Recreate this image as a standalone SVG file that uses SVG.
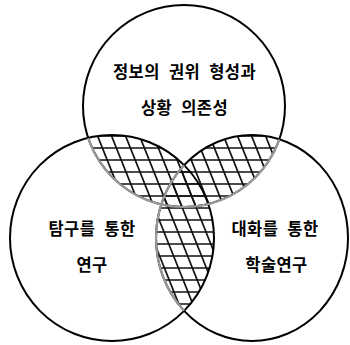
<svg xmlns="http://www.w3.org/2000/svg" width="350" height="345" viewBox="0 0 350 345">
<style>
.c{fill:none;stroke:#000;stroke-width:2}
.g{fill:none;stroke:#9a9a9a;stroke-width:2.2}
.h line{stroke:#111;stroke-width:1.7}
.t{font-family:"Noto Sans CJK KR","Noto Sans",sans-serif;font-size:16.5px;font-weight:bold;fill:#000;text-anchor:middle;letter-spacing:0.4px;word-spacing:5px}
</style>
<defs>
<clipPath id="cTop"><circle cx="184" cy="106" r="101"/></clipPath>
<clipPath id="cLeft"><ellipse cx="112" cy="238" rx="102" ry="103"/></clipPath>
<clipPath id="cRight"><ellipse cx="252" cy="238" rx="96" ry="103"/></clipPath>
<clipPath id="cLR"><ellipse cx="112" cy="238" rx="102" ry="103"/><ellipse cx="252" cy="238" rx="96" ry="103"/></clipPath>
<g id="lines" class="h">
<line x1="70" y1="136" x2="300" y2="136"/>
<line x1="70" y1="148" x2="300" y2="148"/>
<line x1="70" y1="160" x2="300" y2="160"/>
<line x1="70" y1="172" x2="300" y2="172"/>
<line x1="70" y1="184" x2="300" y2="184"/>
<line x1="70" y1="196" x2="300" y2="196"/>
<line x1="70" y1="208" x2="300" y2="208"/>
<line x1="70" y1="220" x2="300" y2="220"/>
<line x1="70" y1="232" x2="300" y2="232"/>
<line x1="70" y1="244" x2="300" y2="244"/>
<line x1="70" y1="256" x2="300" y2="256"/>
<line x1="70" y1="268" x2="300" y2="268"/>
<line x1="70" y1="280" x2="300" y2="280"/>
<line x1="70" y1="292" x2="300" y2="292"/>
<line x1="70" y1="304" x2="300" y2="304"/>
<line x1="35.2" y1="120" x2="115.2" y2="320"/>
<line x1="49.2" y1="120" x2="129.2" y2="320"/>
<line x1="63.2" y1="120" x2="143.2" y2="320"/>
<line x1="77.2" y1="120" x2="157.2" y2="320"/>
<line x1="91.2" y1="120" x2="171.2" y2="320"/>
<line x1="105.2" y1="120" x2="185.2" y2="320"/>
<line x1="119.2" y1="120" x2="199.2" y2="320"/>
<line x1="133.2" y1="120" x2="213.2" y2="320"/>
<line x1="147.2" y1="120" x2="227.2" y2="320"/>
<line x1="161.2" y1="120" x2="241.2" y2="320"/>
<line x1="175.2" y1="120" x2="255.2" y2="320"/>
<line x1="189.2" y1="120" x2="269.2" y2="320"/>
<line x1="203.2" y1="120" x2="283.2" y2="320"/>
<line x1="217.2" y1="120" x2="297.2" y2="320"/>
<line x1="231.2" y1="120" x2="311.2" y2="320"/>
<line x1="245.2" y1="120" x2="325.2" y2="320"/>
<line x1="259.2" y1="120" x2="339.2" y2="320"/>
<line x1="273.2" y1="120" x2="353.2" y2="320"/>
<line x1="287.2" y1="120" x2="367.2" y2="320"/>
<line x1="301.2" y1="120" x2="381.2" y2="320"/>
</g>
</defs>
<g id="hatching">
<g clip-path="url(#cTop)"><g clip-path="url(#cLR)"><use href="#lines"/></g></g>
<g clip-path="url(#cLeft)"><g clip-path="url(#cRight)"><use href="#lines"/></g></g>
</g>
<g id="connectors"></g>
<g id="node-top">
<circle class="c" cx="184" cy="106" r="101"/>
<text class="t" x="184.5" y="78">정보의 권위 형성과</text>
<text class="t" x="184.5" y="114">상황 의존성</text>
</g>
<g id="node-right">
<ellipse class="c" cx="252" cy="238" rx="96" ry="103"/>
<text class="t" x="275" y="235">대화를 통한</text>
<text class="t" x="276.5" y="271">학술연구</text>
</g>
<g id="node-left">
<ellipse class="c" cx="112" cy="238" rx="102" ry="103"/>
<text class="t" x="92" y="235">탐구를 통한</text>
<text class="t" x="92" y="271">연구</text>
</g>
<g id="gray-arcs">
<circle class="g" cx="184" cy="106" r="101" clip-path="url(#cLR)"/>
<ellipse class="g" cx="252" cy="238" rx="96" ry="103" clip-path="url(#cLeft)"/>
</g>
</svg>
